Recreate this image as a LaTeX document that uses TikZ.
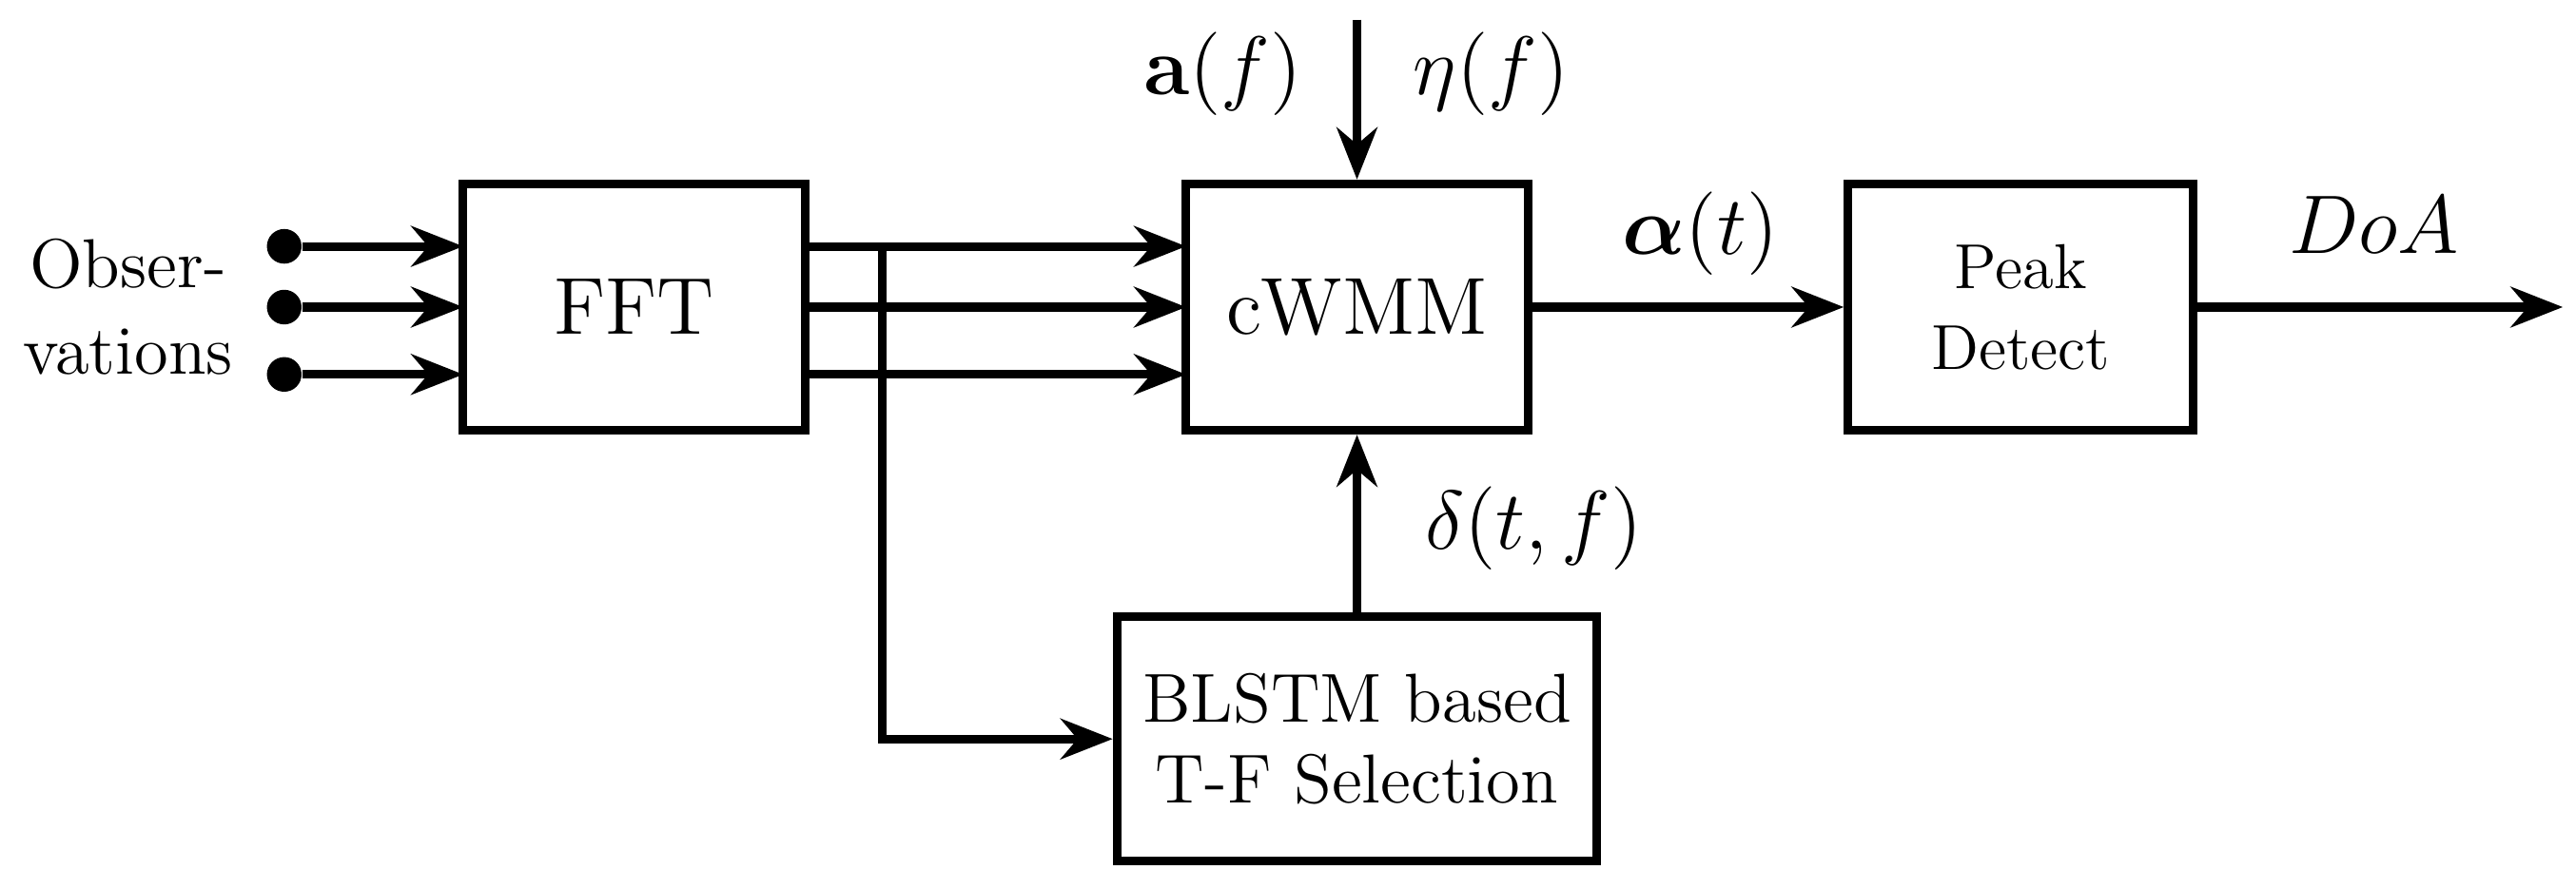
\documentclass[tikz,border=0pt]{standalone}
\usepackage{amsmath,bm}
\usetikzlibrary{arrows.meta}
\begin{document}
\begin{tikzpicture}[x=0.01cm,y=-0.01cm,
  box/.style={draw,line width=1.5pt,inner sep=0pt,font=\fontsize{12}{14}\selectfont,align=center},
  ar/.style={line width=1.5pt,-{Stealth[length=9pt,width=7pt]}},
  dot/.style={circle,fill,inner sep=0pt,minimum size=6pt},
  lab/.style={font=\fontsize{15}{18}\selectfont}]
\useasboundingbox (0,0) rectangle (1568,541);
\node[box,minimum width=2.08cm,minimum height=1.5cm,font=\fontsize{14}{16}\selectfont] (fft) at (386,187) {FFT};
\node[box,minimum width=2.08cm,minimum height=1.5cm,font=\fontsize{14}{16}\selectfont] (cw) at (826,187) {cWMM};
\node[box,minimum width=2.1cm,minimum height=1.5cm,font=\fontsize{11}{14}\selectfont] (pd) at (1230,187) {Peak\\Detect};
\node[box,minimum width=2.92cm,minimum height=1.49cm] (bl) at (826,450) {BLSTM based\\T-F Selection};
\node[align=center,font=\fontsize{12}{15}\selectfont] (obs) at (78,187) {Obser-\\vations};
\foreach \y/\n in {150/1,187/2,228/3}{
  \node[dot] (d\n) at (173,\y) {};
  \coordinate (fi\n) at (282,\y);
  \coordinate (fo\n) at (490,\y);
  \coordinate (ci\n) at (722,\y);
  \draw[ar] (d\n) -- (fi\n);
  \draw[ar] (fo\n) -- (ci\n);
}
\coordinate (br) at (537,150);
\coordinate (bc) at (537,450);
\draw[ar] (br) -- (bc) -- (bl.west);
\coordinate (top) at (826,12);
\draw[ar] (top) -- (cw.north);
\node[lab,anchor=east] (af) at (805,45) {$\mathbf{a}(f)$};
\node[lab,anchor=west] (ef) at (848,45) {$\eta(f)$};
\draw[ar] (bl.north) -- (cw.south);
\node[lab,anchor=west] (dl) at (855,322) {$\delta(t,f)$};
\draw[ar] (cw.east) -- (pd.west);
\node[lab] (al) at (1035,142) {$\bm{\alpha}(t)$};
\coordinate (out) at (1560,187);
\draw[ar] (pd.east) -- (out);
\node[lab] (doa) at (1445,137) {$DoA$};
\end{tikzpicture}
\end{document}
